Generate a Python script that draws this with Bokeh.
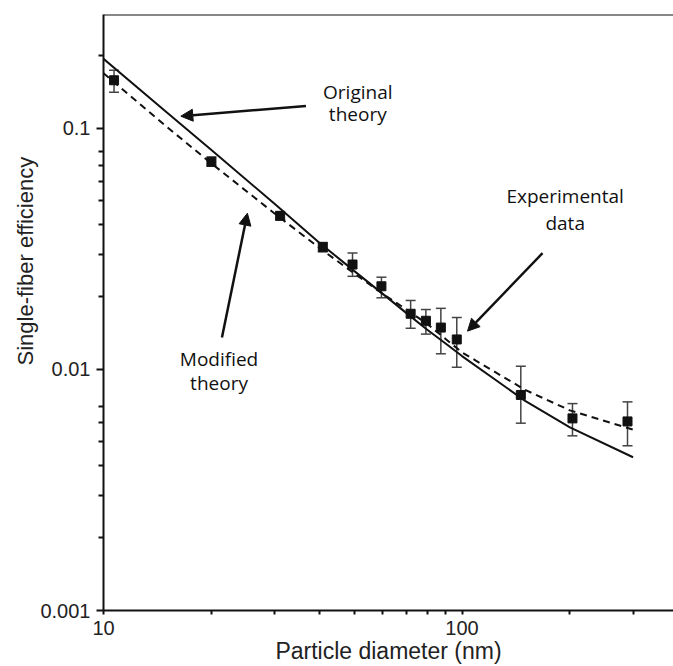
from bokeh.plotting import figure
from bokeh.models import (ColumnDataSource, Whisker, TeeHead, FixedTicker,
                          CustomJSTickFormatter, Span, Label, Arrow, NormalHead, Range1d, Title)
from bokeh.embed import file_html
from bokeh.resources import INLINE

# ---- data ----
diam = [10.7, 20, 31.1, 40.9, 49.5, 59.6, 71.9, 79.3, 87.3, 96.7, 145.9, 203.3, 289.5]
eff = [0.158, 0.0726, 0.0433, 0.0321, 0.0272, 0.0221, 0.0170, 0.0159, 0.0149, 0.0133, 0.00783, 0.00626, 0.00608]
eff_hi = [0.174, 0.0760, 0.0450, 0.0336, 0.0304, 0.0241, 0.0193, 0.0177, 0.0179, 0.0164, 0.0103, 0.00721, 0.00733]
eff_lo = [0.141, 0.0695, 0.0417, 0.0307, 0.0243, 0.0198, 0.0148, 0.0140, 0.0116, 0.0102, 0.00598, 0.00530, 0.00482]

curve_d = [10, 15, 20, 30, 40, 50, 60, 70, 80, 90, 100, 150, 200, 300]
original = [0.194, 0.1164, 0.0811, 0.0486, 0.0335, 0.0256, 0.0206, 0.0171, 0.0146, 0.0128, 0.01135, 0.0074, 0.00575, 0.00432]
modified = [0.169, 0.1014, 0.0714, 0.0443, 0.0319, 0.0250, 0.0206, 0.0177, 0.01542, 0.01337, 0.01175, 0.00822, 0.00676, 0.00562]

x_major = [10, 100]
x_minor = [20, 30, 40, 50, 60, 70, 80, 90, 200, 300]
y_major = [0.001, 0.01, 0.1]
y_minor = [0.002, 0.003, 0.004, 0.005, 0.006, 0.007,
           0.02, 0.03, 0.04, 0.05, 0.06, 0.07, 0.08, 0.2]

x_start, x_end = 10, 389
y_start, y_end = 0.001, 0.296

AX_FONT = "Liberation Sans"
NOTE_FONT = "Open Sans"

p = figure(width=673, height=666, x_axis_type="log", y_axis_type="log",
           x_range=Range1d(x_start, x_end), y_range=Range1d(y_start, y_end),
           output_backend="svg", toolbar_location=None,
           min_border_left=103, min_border_right=0, min_border_top=14, min_border_bottom=54)
p.outline_line_color = None
p.xgrid.visible = False
p.ygrid.visible = False
p.background_fill_color = "white"
p.border_fill_color = "white"

fmt = CustomJSTickFormatter(code="return tick.toString();")
p.xaxis.ticker = FixedTicker(ticks=x_major, minor_ticks=x_minor)
p.yaxis.ticker = FixedTicker(ticks=y_major, minor_ticks=y_minor)
p.xaxis.formatter = fmt
p.yaxis.formatter = fmt

for ax in (p.xaxis, p.yaxis):
    ax.axis_line_width = 2
    ax.axis_line_color = "#111111"
    ax.major_tick_line_color = "#111111"
    ax.minor_tick_line_color = "#111111"
    ax.major_tick_line_width = 2
    ax.minor_tick_line_width = 2
    ax.major_tick_in = 0
    ax.minor_tick_in = 0
    ax.major_label_text_font = AX_FONT
    ax.major_label_text_font_size = "20px"
    ax.major_label_text_color = "#222222"

p.xaxis.major_tick_out = 4
p.xaxis.minor_tick_out = 4
p.xaxis.major_label_standoff = 6
p.yaxis.major_tick_out = 7
p.yaxis.minor_tick_out = 5
p.yaxis.major_label_standoff = 6

p.xaxis.axis_label = "Particle diameter (nm)"
p.xaxis.axis_label_text_font = AX_FONT
p.xaxis.axis_label_text_font_size = "23px"
p.xaxis.axis_label_text_font_style = "normal"
p.xaxis.axis_label_text_color = "#222222"
p.xaxis.axis_label_standoff = 0

p.add_layout(Title(text="Single-fiber efficiency", align="left", offset=245,
                   text_font=AX_FONT, text_font_size="22px", text_font_style="normal",
                   text_color="#222222", standoff=0), "left")

# top frame line
p.add_layout(Span(location=y_end, dimension="width", line_color="#111111", line_width=2))

# theory curves
p.line(curve_d, original, line_color="#111111", line_width=2)
p.line(curve_d, modified, line_color="#111111", line_width=2, line_dash="7 5")

# experimental data with error bars
src = ColumnDataSource(dict(x=diam, y=eff, upper=eff_hi, lower=eff_lo))
p.add_layout(Whisker(source=src, base="x", upper="upper", lower="lower",
                     line_color="#444444", line_width=1.5,
                     upper_head=TeeHead(size=10, line_color="#444444", line_width=1.5),
                     lower_head=TeeHead(size=10, line_color="#444444", line_width=1.5)))
p.scatter("x", "y", source=src, marker="square", size=9, color="#111111")

# annotations
def note(x, y, text):
    p.add_layout(Label(x=x, y=y, text=text, text_font=NOTE_FONT, text_font_size="19px",
                       text_align="center", text_baseline="alphabetic", text_color="#111111"))

note(51.2, 0.1410, "Original")
note(51.2, 0.1145, "theory")
note(21.0, 0.01100, "Modified")
note(21.0, 0.00880, "theory")
note(194, 0.0523, "Experimental")
note(194, 0.0405, "data")

def arrow(x0, y0, x1, y1):
    p.add_layout(Arrow(x_start=x0, y_start=y0, x_end=x1, y_end=y1,
                       line_color="#111111", line_width=2.5,
                       end=NormalHead(size=12, fill_color="#111111", line_color="#111111")))

arrow(36.7, 0.1236, 16.43, 0.1121)
arrow(21.4, 0.01356, 25.2, 0.0444)
arrow(167.7, 0.0303, 103.6, 0.0144)

open("out.html", "w").write(file_html(p, INLINE))
